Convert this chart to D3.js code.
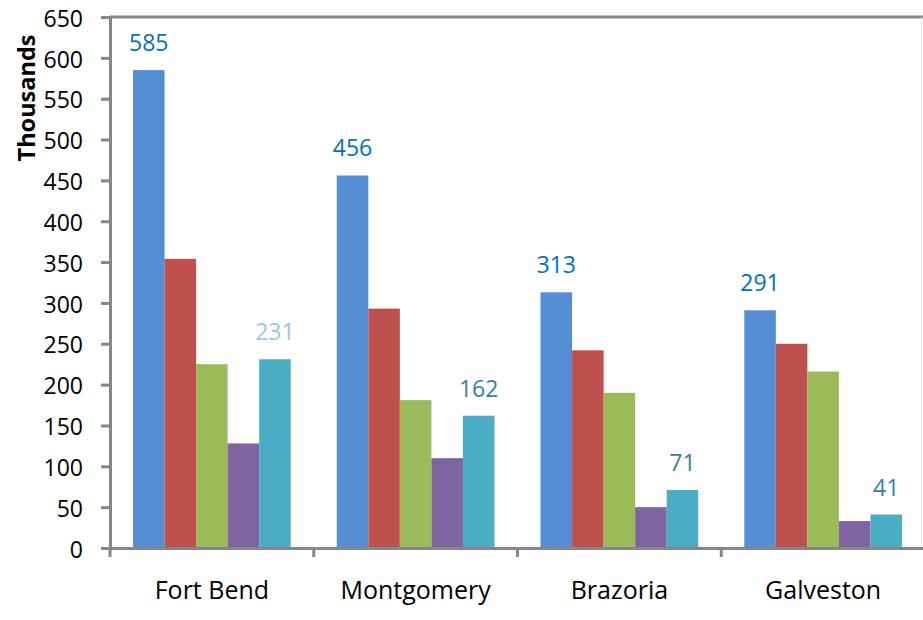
<!DOCTYPE html>
<html><head><meta charset="utf-8">
<script src="https://cdn.jsdelivr.net/npm/d3@7"></script>
<style>
body{margin:0;background:#fff;}
text{font-family:"Open Sans",sans-serif;}
</style></head>
<body><svg id="c" width="923" height="620"></svg>
<script>
const categories = ["Fort Bend","Montgomery","Brazoria","Galveston"];
const seriesNames = ["S1","S2","S3","S4","S5"];
const s1 = [585,456,313,291];
const s2 = [354,293,242,250];
const s3 = [225,181,190,216];
const s4 = [128,110,50,33];
const s5 = [231,162,71,41];
const yTicks = [0,50,100,150,200,250,300,350,400,450,500,550,600,650];
const colors = ["#558ED5","#C0504D","#9BBB59","#8064A2","#4BACC6"];

const FONT = '"Open Sans",sans-serif';
const series = [s1,s2,s3,s4,s5];
const svg = d3.select("#c");
const mLeft = 110, mRight = 925, mTop = 17, mBottom = 548;

const x0 = d3.scaleBand().domain(categories).range([mLeft,mRight]).paddingInner(0).paddingOuter(0);
const x1 = d3.scaleBand().domain(seriesNames).range([0,x0.bandwidth()]).paddingOuter(0.73).paddingInner(0);
const y = d3.scaleLinear().domain([0,650]).range([mBottom,mTop]);

// top border
svg.append("line").attr("x1",mLeft).attr("x2",923).attr("y1",mTop).attr("y2",mTop)
  .attr("stroke","#868686").attr("stroke-width",3);
svg.append("line").attr("x1",921.5).attr("x2",921.5).attr("y1",mTop).attr("y2",mBottom)
  .attr("stroke","#e8e8e8").attr("stroke-width",1);

// bars
categories.forEach((c,ci)=>{
  series.forEach((s,si)=>{
    svg.append("rect")
      .attr("x",x0(c)+x1(seriesNames[si]))
      .attr("y",y(s[ci]))
      .attr("width",x1.bandwidth())
      .attr("height",y(0)-y(s[ci]))
      .attr("fill",colors[si]);
  });
});

// y axis
const ya = svg.append("g").attr("transform",`translate(${mLeft},0)`)
  .call(d3.axisLeft(y).tickValues(yTicks).tickSize(9).tickPadding(18));
ya.select(".domain").attr("stroke","#868686").attr("stroke-width",3);
ya.selectAll(".tick line").attr("stroke","#868686").attr("stroke-width",3);
ya.selectAll(".tick text").attr("font-size",23).attr("fill","#000").attr("dy","0.4em")
  .style("font-family",FONT);

// x axis
const xa = svg.append("g").attr("transform",`translate(0,${mBottom})`)
  .call(d3.axisBottom(x0).tickSize(0).tickPadding(33));
xa.select(".domain").attr("stroke","#868686").attr("stroke-width",3);
xa.selectAll(".tick text").attr("font-size",25).attr("fill","#000")
  .style("font-family",FONT);
categories.forEach(c=>{
  svg.append("line").attr("x1",x0(c)).attr("x2",x0(c)).attr("y1",mBottom).attr("y2",mBottom+9)
    .attr("stroke","#868686").attr("stroke-width",3);
});

// labels
const labelColors1 = ["#0070C0","#0070C0","#0070C0","#0070C0"];
const labelColors5 = ["#93CDDD","#31849B","#31849B","#31849B"];
categories.forEach((c,ci)=>{
  svg.append("text").attr("x",x0(c)+x1("S1")+x1.bandwidth()/2).attr("y",y(s1[ci])-19)
    .attr("text-anchor","middle").attr("font-size",23).attr("fill",labelColors1[ci]).text(s1[ci]);
  svg.append("text").attr("x",x0(c)+x1("S5")+x1.bandwidth()/2).attr("y",y(s5[ci])-19)
    .attr("text-anchor","middle").attr("font-size",23).attr("fill",labelColors5[ci]).text(s5[ci]);
});

// y title
svg.append("text").attr("transform","translate(35,98) rotate(-90)")
  .attr("text-anchor","middle").attr("font-size",23.5).attr("font-weight","bold")
  .attr("fill","#000").text("Thousands");
</script></body></html>
